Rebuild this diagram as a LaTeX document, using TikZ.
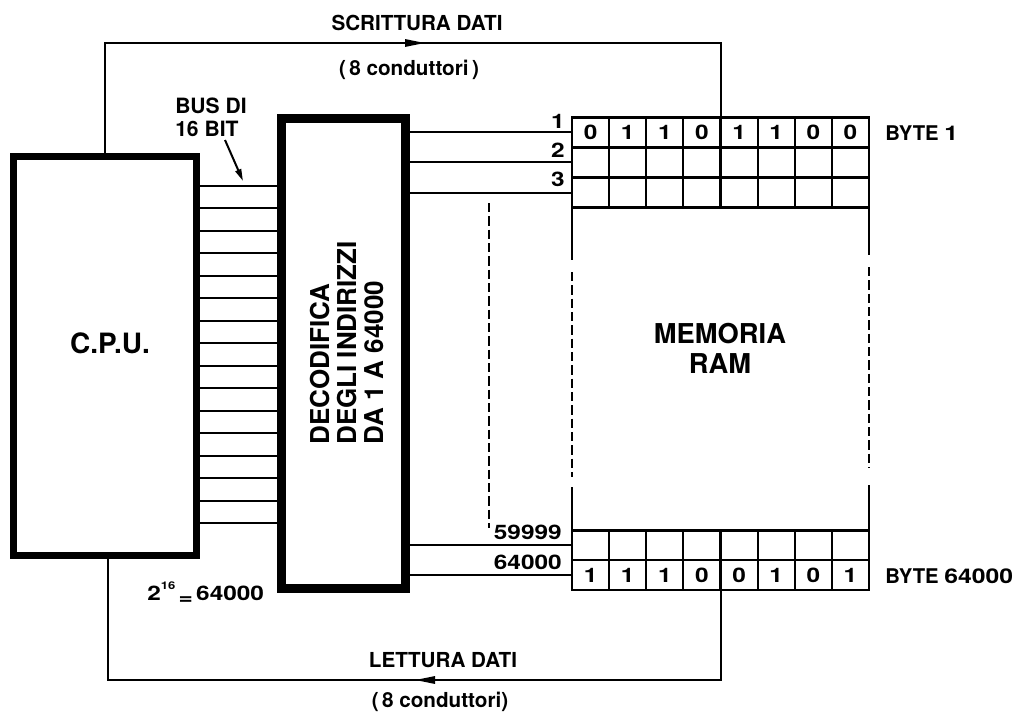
\documentclass[tikz,border=0pt]{standalone}
\usepackage{fontspec}
\setmainfont{TeX Gyre Heros}
\newfontfamily\widef{TeX Gyre Heros}[FakeStretch=1.22]
\usetikzlibrary{arrows.meta,calc}
\begin{document}
\begin{tikzpicture}[x=0.75pt,y=-0.75pt,
  every node/.style={font=\bfseries},
  lbl/.style={font=\fontsize{15.5}{18}\selectfont\bfseries, inner sep=0pt},
  num/.style={font=\fontsize{15}{17}\selectfont\bfseries\widef, inner sep=0pt},
  cpubox/.style={draw, line width=5.25pt, minimum width=137.25pt, minimum height=299.25pt, inner sep=0pt},
  decbox/.style={draw, line width=6.75pt, minimum width=93pt, minimum height=352.5pt, inner sep=0pt},
  cell/.style={draw, line width=1.65pt, minimum width=27.84pt, minimum height=22.5pt, inner sep=0pt, outer sep=0pt,
    font=\fontsize{15}{17}\selectfont\bfseries\widef},
  bcell/.style={cell, minimum height=22.31pt},
  wire/.style={line width=1.5pt},
  side/.style={line width=1.65pt},
  dsh/.style={line width=2pt, dash pattern=on 7pt off 3pt},
  tip/.style={-{Triangle[length=15pt,width=5.5pt]}},
  smalltip/.style={-{Triangle[length=9pt,width=4.5pt]}}
]
\useasboundingbox (0,0) rectangle (1020,713);

% CPU and decoder
\node[cpubox] (cpu) at (105,356) {};
\node[font=\fontsize{21}{23}\selectfont\bfseries] (cput) at (110,343) {C.P.U.};
\node[decbox] (dec) at (343.5,353.5) {};
\node[rotate=90, anchor=west, align=left, inner sep=0pt,
  font=\fontsize{19.5}{20.25}\selectfont\bfseries] (dect) at (347,445)
  {DECODIFICA\\DEGLI INDIRIZZI\\DA 1 A 64000};

% 16-bit bus
\foreach \k in {0,...,15}{
  \draw[wire] (cpu.east |- 0,{185.7+22.5*\k}) -- (dec.west |- 0,{185.7+22.5*\k});
}
\node[lbl, anchor=west, align=left, font=\fontsize{15.8}{17.5}\selectfont\bfseries] (bus) at (175,117) {BUS DI\\16 BIT};
\coordinate (bustail) at (225,140);
\coordinate (bustip) at (243,181);
\draw[wire, smalltip] (bustail) -- (bustip);

% memory top rows
\foreach \r in {1,2,3}{
  \foreach \c in {1,...,8}{
    \node[cell] (t\r-\c) at ({572+37.125*(\c-0.5)},{117.5+30*(\r-0.5)}) {};
  }
}
\foreach \v [count=\c] in {0,1,1,0,1,1,0,0}{
  \node[cell, draw=none] at (t1-\c) {\v};
}
% memory bottom rows
\foreach \r in {1,2}{
  \foreach \c in {1,...,8}{
    \node[bcell] (b\r-\c) at ({572+37.125*(\c-0.5)},{530.5+29.75*(\r-0.5)}) {};
  }
}
\foreach \v [count=\c] in {1,1,1,0,0,1,0,1}{
  \node[bcell, draw=none] at (b2-\c) {\v};
}

% memory sides
\coordinate (l1) at (t3-1.south west |- 0,260);
\coordinate (l2) at (t3-1.south west |- 0,272);
\coordinate (l3) at (t3-1.south west |- 0,477);
\coordinate (l4) at (t3-1.south west |- 0,487);
\draw[side] (t3-1.south west) -- (l1);
\draw[dsh] (l2) -- (l3);
\draw[side] (l4) -- (b1-1.north west);
\coordinate (r1) at (t3-8.south east |- 0,255);
\coordinate (r2) at (t3-8.south east |- 0,267);
\coordinate (r3) at (t3-8.south east |- 0,468);
\coordinate (r4) at (t3-8.south east |- 0,485);
\draw[side] (t3-8.south east) -- (r1);
\draw[dsh] (r2) -- (r3);
\draw[side] (r4) -- (b1-8.north east);
\node[font=\fontsize{20.5}{22.5}\selectfont\bfseries, align=center] (mem) at (720,348) {MEMORIA\\RAM};

% address lines
\foreach \r in {1,2,3}{
  \draw[wire] (dec.east |- t\r-1.west) -- (t\r-1.west);
}
\foreach \r in {1,2}{
  \draw[wire] (dec.east |- b\r-1.west) -- (b\r-1.west);
}
\node[num, anchor=east] (n1) at (565,121) {1};
\node[num, anchor=east] (n2) at (565,150) {2};
\node[num, anchor=east] (n3) at (565,179) {3};
\node[num, anchor=east] (n59) at (562,532) {59999};
\node[num, anchor=east] (n64) at (562,562) {64000};
\coordinate (d1) at (489,203);
\coordinate (d2) at (489,528);
\draw[dsh, line width=1.8pt] (d1) -- (d2);

\node[lbl, anchor=west, font=\fontsize{15.2}{17}\selectfont\bfseries] (by1) at (885,133) {BYTE {\widef 1}};
\node[lbl, anchor=west, font=\fontsize{15.2}{17}\selectfont\bfseries] (by64) at (885,576) {BYTE {\widef 64000}};

% write bus
\coordinate (tl) at (cpu.north |- 0,43);
\coordinate (tr) at (t1-4.north east |- tl);
\coordinate (ta) at (425,43);
\draw[wire] (cpu.north) -- (tl) -- (tr) -- (t1-4.north east);
\draw[wire, tip] (tl) -- (ta);
\node[lbl] (wt) at (417,23) {SCRITTURA DATI};
\node[lbl] (wc) at (409,70) {(\,8 conduttori\,)};

% read bus
\coordinate (bl) at ([xshift=2.25pt]cpu.south |- 0,680);
\coordinate (br) at (b2-4.south east |- bl);
\coordinate (ba) at (415,680);
\draw[wire] (b2-4.south east) -- (br) -- (bl) -- ([xshift=2.25pt]cpu.south);
\draw[wire, tip] (br) -- (ba);
\node[lbl] (rt) at (443,660) {LETTURA DATI};
\node[lbl] (rc) at (440,702) {(\,8 conduttori)};

\node[num, anchor=west] (pw) at (147,593) {2\raisebox{1.1ex}{\fontsize{8}{9}\selectfont 16}\,\raisebox{-0.35ex}{=}\,64000};
\end{tikzpicture}
\end{document}
